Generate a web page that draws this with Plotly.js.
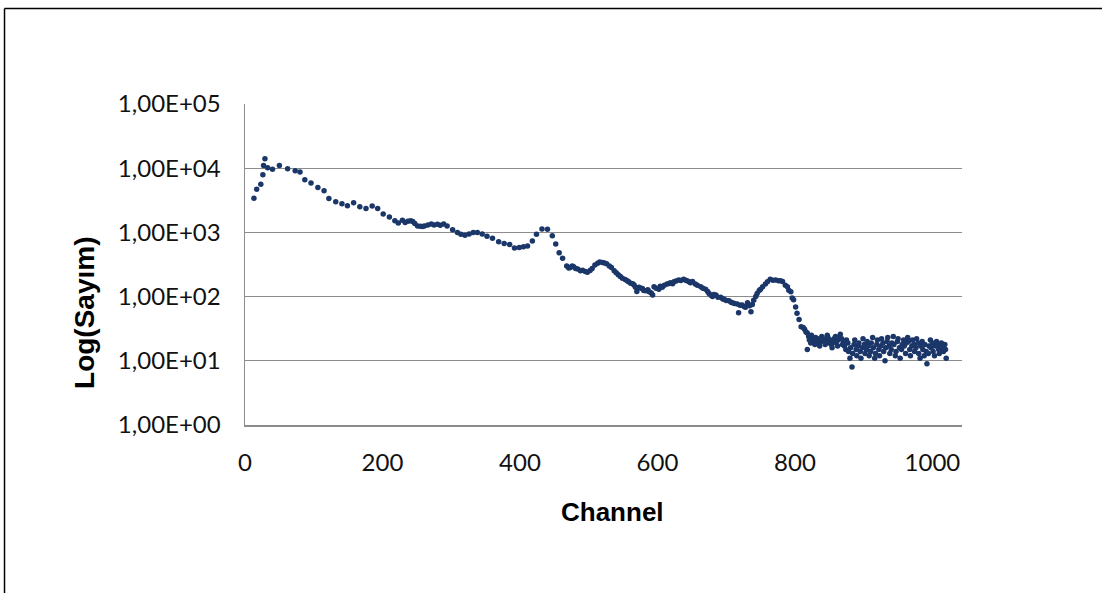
<!DOCTYPE html>
<html>
<head>
<meta charset="utf-8">
<script src="https://cdn.plot.ly/plotly-3.0.1.min.js"></script>
<style>html,body{margin:0;padding:0;background:#fff;}#chart{width:1102px;height:593px;}</style>
</head>
<body>
<div id="chart"></div>
<script>
// Channel numbers and counts
const channel = [13,17,23,26,27,29,33,40,50,62,73,80,87,96,106,115,122,132,141,149,158,167,176,185,193,201,210,218,223,229,233,237,241,244,247,251,255,258,261,266,271,275,280,284,289,294,302,309,314,320,326,332,338,345,352,360,369,377,385,392,399,405,411,418,424,432,440,447,452,457,462,468,471,473,476,478,481,484,488,491,495,498,502,505,509,513,516,520,523,526,530,533,537,540,543,546,549,553,556,558,561,564,566,568,570,573,576,578,580,583,586,588,591,593,595,598,602,604,607,610,614,617,619,622,624,627,631,634,638,641,643,646,648,651,655,658,663,666,670,673,675,678,680,682,685,688,692,695,697,700,704,707,709,712,716,718,720,723,726,728,731,734,736,738,740,743,745,748,750,753,757,760,764,768,772,776,779,782,786,789,791,794,796,798,801,803,806,809,812,814,816,818,818,
820,821,823,824,826,827,829,830,832,833,835,836,838,839,841,842,844,845,847,848,850,851,853,854,856,857,859,860,862,863,865,866,868,869,871,872,874,875,877,878,880,881,883,884,886,887,889,890,892,893,895,896,898,899,901,902,904,905,907,908,910,911,913,914,916,917,919,920,922,923,925,926,928,929,931,932,934,935,937,938,940,941,943,944,946,947,949,950,952,953,955,956,958,959,961,962,964,965,967,968,970,971,973,974,976,977,979,980,982,983,985,986,988,989,991,992,994,995,997,998,1000,1001,1003,1004,1006,1007,1009,1010,1012,1013,1015,1016,1018,1019,1020];
const counts = [3400,4700,5600,7900,11000,14000,10200,9600,11000,9800,9100,8700,6600,5900,5000,4450,3360,3000,2800,2600,2900,2500,2350,2580,2350,1940,1740,1520,1400,1550,1420,1490,1520,1480,1380,1260,1250,1240,1260,1300,1350,1300,1340,1290,1350,1260,1100,1000,940,900,945,1000,1000,945,870,810,716,670,650,570,580,600,615,735,935,1130,1120,890,660,480,395,300,280,285,300,293,275,268,252,257,245,240,255,275,310,330,345,340,335,325,300,285,253,235,218,205,193,185,177,170,162,158,152,140,120,140,135,134,125,123,128,119,114,106,143,135,130,145,140,150,157,160,165,158,170,175,182,178,186,180,177,170,165,172,157,150,143,135,130,120,112,105,100,108,106,98,98,92,91,87,86,82,80,78,77,56,73,74,70,68,80,72,58,75,88,100,112,125,130,143,157,170,186,180,182,177,177,172,150,143,126,119,95,89,69,55,44,34,33,31,28,27,15,
24,21,19,25,22,20,18,23,21,22,19,17,20,24,22,21,18,20,25,23,19,21,18,16,20,22,24,19,17,21,23,26,22,18,20,17,15,21,19,14,11,16,8,13,18,21,15,12,17,19,14,11,16,22,18,13,15,20,17,12,14,19,23,16,11,13,18,21,15,12,17,22,19,14,10,16,20,23,17,13,15,19,24,18,12,14,20,22,16,11,15,18,21,17,13,19,23,20,15,12,17,21,18,14,16,22,19,13,11,17,20,15,12,18,14,9,13,17,21,16,19,14,12,17,20,18,15,13,17,19,16,14,18,15,11];
const yTickVals = [1,10,100,1000,10000,100000];
const yTickText = ["1,00E+00","1,00E+01","1,00E+02","1,00E+03","1,00E+04","1,00E+05"];
const xTickVals = [0,200,400,600,800,1000];
const xTickText = ["0","200","400","600","800","1000"];

const trace = {
  x: channel, y: counts, type: 'scatter', mode: 'markers',
  marker: {color: '#1B3668', size: 5.5, symbol: 'circle'},
  hoverinfo: 'skip'
};
const tickFont = {family: 'Lato, "Open Sans", sans-serif', size: 24, color: '#111'};
const layout = {
  width: 1102, height: 593,
  margin: {l: 245, r: 140, t: 104, b: 168},
  paper_bgcolor: '#fff', plot_bgcolor: '#fff',
  showlegend: false,
  xaxis: {
    range: [0, 1043], tickvals: xTickVals, ticktext: xTickText,
    showgrid: false, zeroline: false, showline: true, linecolor: '#8c8c8c', linewidth: 1.5,
    ticks: '', tickfont: tickFont, ticklabelstandoff: 16
  },
  yaxis: {
    type: 'log', range: [0, 5], tickvals: yTickVals, ticktext: yTickText,
    showgrid: true, gridcolor: '#8c8c8c', gridwidth: 1.2, zeroline: false,
    showline: true, linecolor: '#8c8c8c', linewidth: 1.5,
    ticks: '', tickfont: tickFont, ticklabelstandoff: 18
  },
  annotations: [
    {text: 'Log(Sayım)', xref: 'paper', yref: 'paper', x: -0.2232, y: 0.349, textangle: -90,
     showarrow: false, xanchor: 'center', yanchor: 'middle',
     font: {family: '"Liberation Sans", Arial, sans-serif', size: 28, color: '#000', weight: 'bold'}},
    {text: 'Channel', xref: 'paper', yref: 'paper', x: 0.5119, y: -0.271,
     showarrow: false, xanchor: 'center', yanchor: 'middle',
     font: {family: '"Liberation Sans", Arial, sans-serif', size: 26, color: '#000', weight: 'bold'}}
  ],
  shapes: [
    {type: 'line', xref: 'paper', yref: 'paper', x0: -0.3354, x1: 1.2, y0: 1.2975, y1: 1.2975, line: {color: '#000', width: 1.5}},
    {type: 'line', xref: 'paper', yref: 'paper', x0: -0.3354, x1: -0.3354, y0: 1.2975, y1: -0.53, line: {color: '#000', width: 1.5}}
  ]
};
Plotly.newPlot('chart', [trace], layout, {displayModeBar: false, staticPlot: true});
</script>
</body>
</html>
